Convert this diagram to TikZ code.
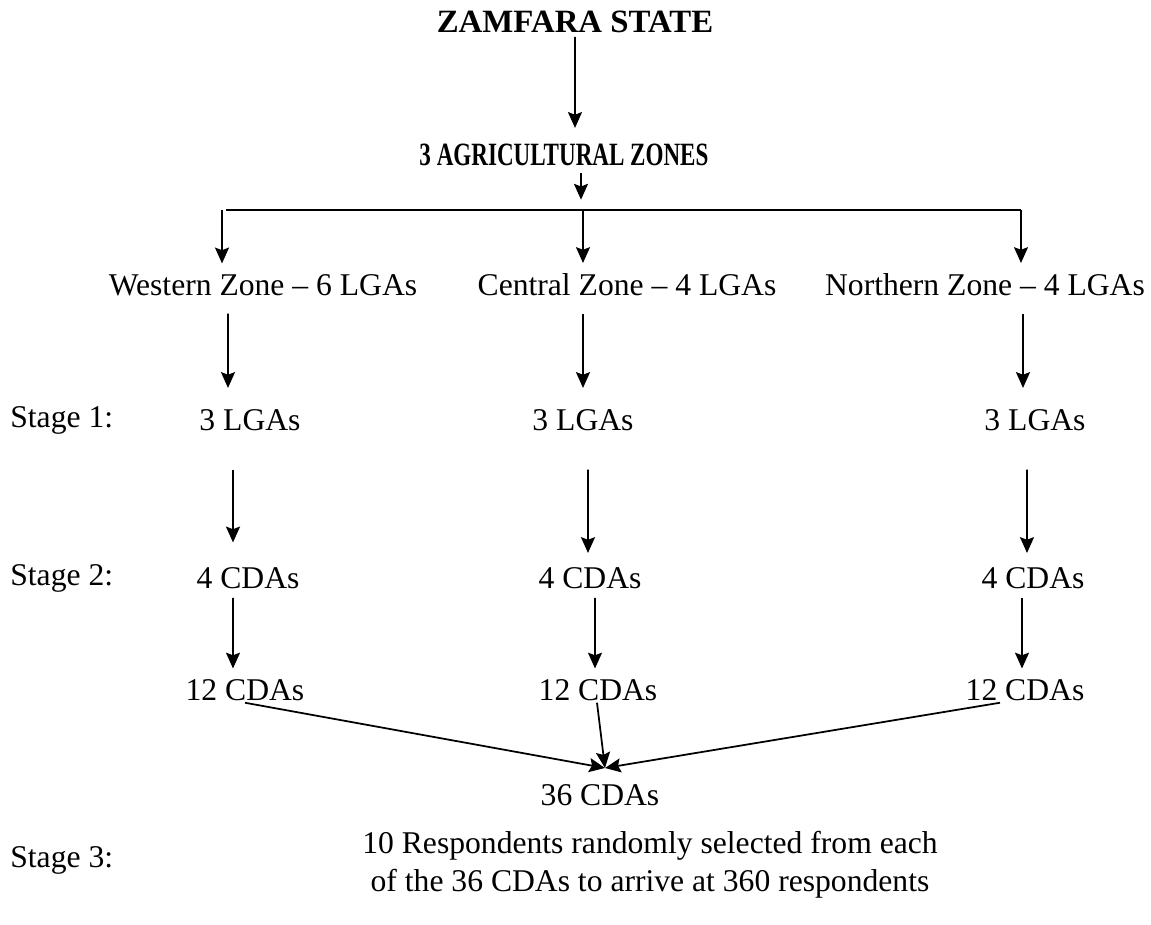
\documentclass[tikz,border=0pt]{standalone}
\usepackage{fontspec}
\setmainfont{Liberation Serif}
\usetikzlibrary{arrows.meta}
\tikzstyle{title} = [font=\fontsize{18.5}{21}\selectfont\bfseries, inner sep=2pt]
\tikzstyle{level} = [font=\fontsize{18}{21}\selectfont, inner sep=2pt]
\tikzstyle{stage} = [font=\fontsize{18}{21}\selectfont, anchor=west, inner sep=0pt]
\tikzstyle{arrow} = [line width=1pt,->,>={Stealth[length=9pt,width=8pt,inset=1.5pt]}]

\begin{document}
\begin{tikzpicture}
	\useasboundingbox (0,0) rectangle (23.02,-18.5);

		% Draw the nodes
		\node (zam) [title] at (11.5,-0.44) {\scalebox{1.01}[1]{ZAMFARA STATE}};
		\node (agz) [title] at (11.28,-3.1) {\scalebox{0.71}[1]{3 AGRICULTURAL ZONES}};
		\coordinate (wbr) at (4.44,-4.2);
		\coordinate (cbr) at (11.66,-4.2);
		\coordinate (nbr) at (20.42,-4.2);
		\node (wz) [level] at (5.26,-5.7) {Western Zone -- 6 LGAs};
		\node (cz) [level] at (12.54,-5.7) {Central Zone -- 4 LGAs};
		\node (nz) [level] at (19.7,-5.7) {Northern Zone -- 4 LGAs};
		\node (s1) [stage] at (0.2,-8.4) {Stage 1:};
		\node (wl) [level] at (5.0,-8.4) {3 LGAs};
		\node (cl) [level] at (11.66,-8.4) {3 LGAs};
		\node (nl) [level] at (20.7,-8.4) {3 LGAs};
		\node (s2) [stage] at (0.2,-11.56) {Stage 2:};
		\node (wc) [level] at (4.96,-11.56) {4 CDAs};
		\node (cc) [level] at (11.8,-11.56) {4 CDAs};
		\node (nc) [level] at (20.66,-11.56) {4 CDAs};
		\node (wd) [level] at (4.9,-13.8) {12 CDAs};
		\node (cd) [level] at (11.96,-13.8) {12 CDAs};
		\node (nd) [level] at (20.5,-13.8) {12 CDAs};
		\coordinate (meet) at (12.1,-15.36);
		\node (tot) [level] at (12.0,-15.9) {36 CDAs};
		\node (s3) [stage] at (0.2,-17.2) {Stage 3:};
		\node (resp) [level, align=center, font=\fontsize{18}{21.5}\selectfont] at (13.0,-17.3) {10 Respondents randomly selected from each\\ of the 36 CDAs to arrive at 360 respondents};

		%Draw the arrows
		\draw [arrow] ([yshift=0pt]zam.south) -- ([xshift=0.22cm,yshift=7pt]agz.north);
		\draw [arrow] ([xshift=0.34cm,yshift=-2pt]agz.south) -- ([xshift=0.34cm,yshift=-17pt]agz.south);
		\draw [line width=1pt] ([xshift=0.08cm]wbr) -- (nbr);
		\draw [arrow] (wbr) -- ([xshift=-0.82cm,yshift=4pt]wz.north);
		\draw [arrow] (cbr) -- ([xshift=-0.88cm,yshift=4pt]cz.north);
		\draw [arrow] (nbr) -- ([xshift=0.72cm,yshift=4pt]nz.north);
		% western column
		\draw [arrow] ([xshift=-0.70cm,yshift=-8pt]wz.south) -- ([xshift=-0.44cm,yshift=10pt]wl.north);
		\draw [arrow] ([xshift=-0.34cm,yshift=-20pt]wl.south) -- ([xshift=-0.30cm,yshift=12pt]wc.north);
		\draw [arrow] ([xshift=-0.30cm,yshift=-3pt]wc.south) -- ([xshift=-0.24cm,yshift=4pt]wd.north);
		% central column
		\draw [arrow] ([xshift=-0.88cm,yshift=-8pt]cz.south) -- ([yshift=10pt]cl.north);
		\draw [arrow] ([xshift=0.10cm,yshift=-20pt]cl.south) -- ([xshift=-0.04cm,yshift=6pt]cc.north);
		\draw [arrow] ([xshift=0.10cm,yshift=-3pt]cc.south) -- ([xshift=-0.06cm,yshift=4pt]cd.north);
		% northern column
		\draw [arrow] ([xshift=0.76cm,yshift=-8pt]nz.south) -- ([xshift=-0.24cm,yshift=10pt]nl.north);
		\draw [arrow] ([xshift=-0.16cm,yshift=-20pt]nl.south) -- ([xshift=-0.12cm,yshift=6pt]nc.north);
		\draw [arrow] ([xshift=-0.22cm,yshift=-3pt]nc.south) -- ([xshift=-0.06cm,yshift=4pt]nd.north);
		% to 36 CDAs
		\draw [arrow] ([yshift=1pt]wd.south) -- (meet);
		\draw [arrow] ([xshift=-0.02cm,yshift=1pt]cd.south) -- (meet);
		\draw [arrow] ([xshift=-0.5cm,yshift=1pt]nd.south) -- (meet);

\end{tikzpicture}
\end{document}
